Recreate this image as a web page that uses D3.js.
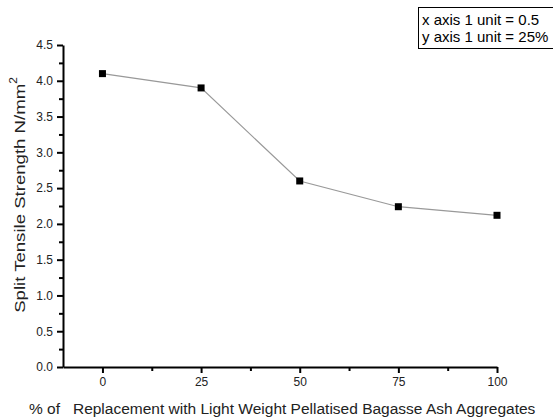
<!DOCTYPE html>
<html>
<head>
<meta charset="utf-8">
<script src="https://cdn.jsdelivr.net/npm/d3@7"></script>
<style>
  body { margin: 0; background: #fff; }
  text { font-family: "Liberation Sans", Arial, sans-serif; }
</style>
</head>
<body>
<div class="canvas"></div>
<script>
// replacement % and split tensile strength
const replacement = [0, 25, 50, 75, 100];
const strength = [4.1, 3.9, 2.6, 2.24, 2.12];
const xTicks = [0, 25, 50, 75, 100];
const yTicks = [0.0, 0.5, 1.0, 1.5, 2.0, 2.5, 3.0, 3.5, 4.0, 4.5];
const noteLines = ['x axis 1 unit = 0.5', 'y axis 1 unit = 25%'];

const width = 553, height = 418;
const margin = {top: 45, right: 56, bottom: 51, left: 63};

const svg = d3.select('.canvas')
    .append('svg')
    .attr('width', width)
    .attr('height', height);

const x = d3.scaleLinear()
    .domain([-10, 100])
    .range([margin.left, width - margin.right]);

const y = d3.scaleLinear()
    .domain([0, 4.5])
    .range([height - margin.bottom, margin.top]);

// minor ticks first, then major
const xMinor = d3.range(12.5, 100, 25);
const yMinor = d3.range(0.25, 4.5, 0.5);

svg.append('g')
    .attr('transform', `translate(0,${y(0)})`)
    .call(d3.axisBottom(x).tickValues(xMinor).tickSize(4).tickFormat(''))
    .call(g => g.select('.domain').remove())
    .selectAll('line').attr('stroke-width', 2);

svg.append('g')
    .attr('transform', `translate(${x(-10)},0)`)
    .call(d3.axisLeft(y).tickValues(yMinor).tickSize(4).tickFormat(''))
    .call(g => g.select('.domain').remove())
    .selectAll('line').attr('stroke-width', 2);

const xAxis = svg.append('g')
    .attr('transform', `translate(0,${y(0)})`)
    .call(d3.axisBottom(x).tickValues(xTicks).tickSize(6).tickSizeOuter(0).tickPadding(4));

const yAxis = svg.append('g')
    .attr('transform', `translate(${x(-10)},0)`)
    .call(d3.axisLeft(y).tickValues(yTicks).tickSize(6).tickSizeOuter(0).tickPadding(4)
        .tickFormat(d3.format('.1f')));

[xAxis, yAxis].forEach(g => {
    g.select('.domain').attr('stroke-width', 2);
    g.selectAll('line').attr('stroke-width', 2);
    g.selectAll('text').attr('font-size', 12).attr('fill', '#222')
        .style('font-family', '"Liberation Sans", Arial, sans-serif');
});

// data line and markers
const line = d3.line()
    .x((d, i) => x(replacement[i]))
    .y(d => y(d));

svg.append('path')
    .datum(strength)
    .attr('d', line)
    .attr('fill', 'none')
    .attr('stroke', '#999')
    .attr('stroke-width', 1.2);

svg.selectAll('rect.pt')
    .data(strength)
    .enter().append('rect')
    .attr('class', 'pt')
    .attr('x', (d, i) => x(replacement[i]) - 3.5)
    .attr('y', d => y(d) - 3.5)
    .attr('width', 7)
    .attr('height', 7)
    .attr('fill', '#000');

// axis titles (y title is a bit stretched along its length in the original)
const yTitle = svg.append('text')
    .attr('transform', 'translate(25,195) rotate(-90) scale(1.2,1)')
    .attr('text-anchor', 'middle')
    .attr('font-size', 15.5)
    .attr('fill', '#222');
yTitle.append('tspan').text('Split Tensile Strength N/mm');
yTitle.append('tspan').text('2').attr('font-size', 10).attr('dy', -8);

svg.append('text')
    .attr('x', 29)
    .attr('y', 414)
    .attr('font-size', 15.5)
    .attr('fill', '#222')
    .attr('xml:space', 'preserve')
    .style('white-space', 'pre')
    .text('% of   Replacement with Light Weight Pellatised Bagasse Ash Aggregates');

// note box
svg.append('rect')
    .attr('x', 418.5)
    .attr('y', 7.5)
    .attr('width', 140)
    .attr('height', 41)
    .attr('fill', '#fff')
    .attr('stroke', '#000')
    .attr('stroke-width', 1);

svg.selectAll('text.note')
    .data(noteLines)
    .enter().append('text')
    .attr('class', 'note')
    .attr('x', 422)
    .attr('y', (d, i) => 25 + i * 17)
    .attr('font-size', 15)
    .attr('fill', '#000')
    .text(d => d);
</script>
</body>
</html>
